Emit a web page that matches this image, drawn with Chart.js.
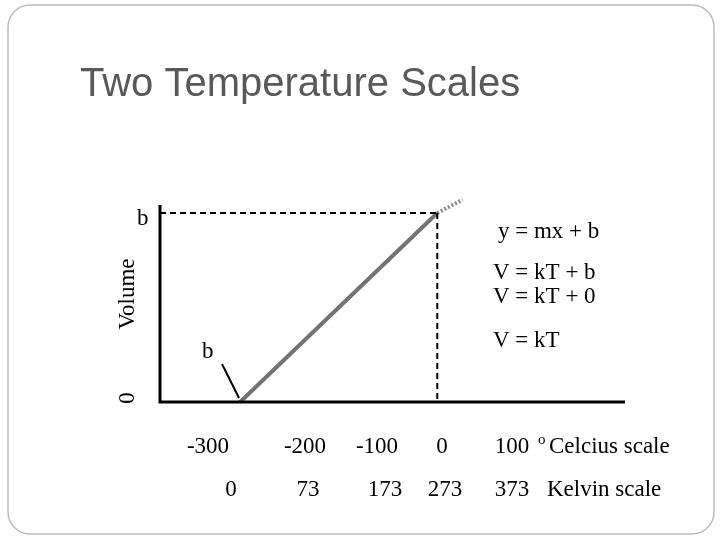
<!DOCTYPE html>
<html><head><script src="https://cdn.jsdelivr.net/npm/chart.js"></script>
<style>body{margin:0;background:#fff}#w{width:720px;height:540px}</style></head>
<body><div id="w"><canvas id="c"></canvas></div>
<script>
const celsiusLabels = ["-300","-200","-100","0","100"];
const kelvinLabels = ["0","73","173","273","373"];
const lineCelsius = [-273, 0];
const lineVolume = [0, 1];
const extCelsius = [0, 35];
const extVolume = [1, 1.07];
const S = 'Liberation Serif, serif';
const deco = {
  id:'deco',
  beforeDraw(ch){const c=ch.ctx;c.save();c.strokeStyle='#bbb';c.lineWidth=1.5;c.beginPath();c.roundRect(8,5,706,529,22);c.stroke();c.restore();},
  afterDatasetsDraw(ch){
    const c=ch.ctx,x=ch.scales.x,y=ch.scales.y,a=ch.chartArea;
    c.save();
    c.fillStyle='#595959';c.font='40px Liberation Sans, Arial';c.textBaseline='alphabetic';
    c.fillText('Two Temperature Scales',80,96);
    c.strokeStyle='#000';c.lineWidth=2;c.setLineDash([6,4]);
    c.beginPath();c.moveTo(a.left,y.getPixelForValue(1));c.lineTo(x.getPixelForValue(0),y.getPixelForValue(1));
    c.moveTo(x.getPixelForValue(0),y.getPixelForValue(1));c.lineTo(x.getPixelForValue(0),y.getPixelForValue(0));c.stroke();
    c.setLineDash([]);c.lineWidth=3;
    c.beginPath();c.moveTo(a.left,a.top);c.lineTo(a.left,a.bottom);c.lineTo(a.right,a.bottom);c.stroke();
    c.lineWidth=2;c.beginPath();c.moveTo(222,364);c.lineTo(239,398);c.stroke();
    c.fillStyle='#000';c.font='23px '+S;
    c.fillText('b',137,225);
    c.fillText('y = mx + b',498,238);
    c.fillText('V = kT + b',493,279);
    c.fillText('V = kT + 0',493,303);
    c.fillText('V = kT',493,347);
    c.fillText('b',202,358);
    c.textAlign='center';
    const cx=[208,305,377,442,512], kx=[231,308,385,445,512];
    celsiusLabels.forEach((t,i)=>c.fillText(t,cx[i],453));
    kelvinLabels.forEach((t,i)=>c.fillText(t,kx[i],496));
    c.textAlign='left';
    c.font='15px '+S;c.fillText('o',538,444);
    c.font='23px '+S;c.fillText('Celcius scale',549,453);c.fillText('Kelvin scale',547,496);
    c.save();c.translate(134,294);c.rotate(-Math.PI/2);c.textAlign='center';c.fillText('Volume',0,0);c.restore();
    c.save();c.translate(134,398);c.rotate(-Math.PI/2);c.textAlign='center';c.fillText('0',0,0);c.restore();
    c.restore();
  }
};
new Chart(document.getElementById('c'),{
  type:'scatter',
  data:{datasets:[
    {data:lineCelsius.map((v,i)=>({x:v,y:lineVolume[i]})),showLine:true,borderColor:'#737373',borderWidth:4,pointRadius:0,clip:false},
    {data:extCelsius.map((v,i)=>({x:v,y:extVolume[i]})),showLine:true,borderColor:'#8a8a8a',borderWidth:4,borderDash:[2,2],pointRadius:0,clip:false}
  ]},
  options:{responsive:true,maintainAspectRatio:false,animation:false,
    layout:{padding:{left:160,right:95,top:205,bottom:138}},
    plugins:{legend:{display:false},tooltip:{enabled:false}},
    scales:{x:{type:'linear',min:-384,max:260,display:false},y:{min:0,max:1.042,display:false}}},
  plugins:[deco]
});
</script></body></html>
